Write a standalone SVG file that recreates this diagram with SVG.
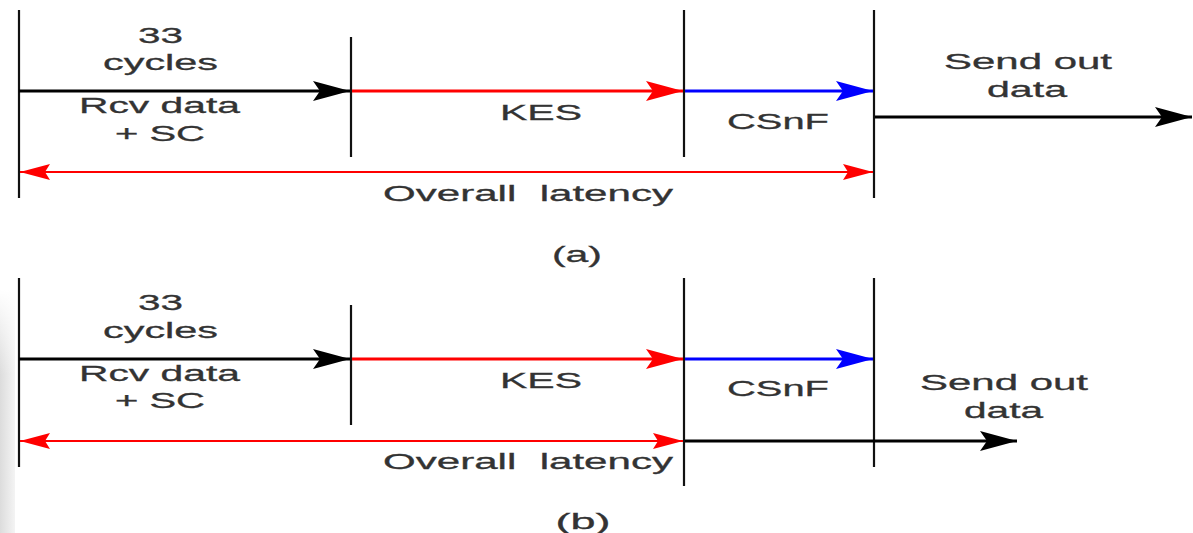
<svg xmlns="http://www.w3.org/2000/svg" width="1193" height="533" viewBox="0 0 1193 533">
<style>
.v{stroke:#111;stroke-width:2.2;fill:none}
.t{font-family:"Liberation Sans",Arial,sans-serif;font-size:22.5px;fill:#333;stroke:#333;stroke-width:0.3;text-anchor:middle}
.blk{stroke:#000;stroke-width:3;fill:none}
.red{stroke:#ff0000;stroke-width:3;fill:none}
.blu{stroke:#0000ff;stroke-width:3;fill:none}
.lat{stroke:#ff0000;stroke-width:2;fill:none}
</style>
<defs>
<marker id="hk" markerUnits="userSpaceOnUse" markerWidth="40" markerHeight="24" viewBox="0 -12 40 24" refX="37" refY="0" orient="auto"><path d="M0,-10 L37,0 L0,10 L7,0 z" fill="#000"/></marker>
<marker id="hr" markerUnits="userSpaceOnUse" markerWidth="40" markerHeight="24" viewBox="0 -12 40 24" refX="37" refY="0" orient="auto"><path d="M0,-10 L37,0 L0,10 L7,0 z" fill="#ff0000"/></marker>
<marker id="hb" markerUnits="userSpaceOnUse" markerWidth="40" markerHeight="24" viewBox="0 -12 40 24" refX="37" refY="0" orient="auto"><path d="M0,-10 L37,0 L0,10 L7,0 z" fill="#0000ff"/></marker>
<marker id="hl" markerUnits="userSpaceOnUse" markerWidth="32" markerHeight="20" viewBox="0 -10 32 20" refX="30" refY="0" orient="auto-start-reverse"><path d="M0,-8 L30,0 L0,8 L5,0 z" fill="#ff0000"/></marker>
<linearGradient id="sh" x1="0" y1="0" x2="1" y2="0"><stop offset="0" stop-color="#dcdcdc"/><stop offset="1" stop-color="#f4f4f4"/></linearGradient>
<linearGradient id="shv" x1="0" y1="0" x2="0" y2="1"><stop offset="0" stop-color="#fff" stop-opacity="1"/><stop offset="0.35" stop-color="#fff" stop-opacity="0"/></linearGradient>
</defs>
<rect width="1193" height="533" fill="#fff"/>
<rect x="0" y="290" width="15" height="243" fill="url(#sh)"/>
<rect x="0" y="290" width="15" height="243" fill="url(#shv)"/>

<g id="panel-a-ticks">
<line class="v" x1="19" y1="10" x2="19" y2="198"/>
<line class="v" x1="351" y1="37" x2="351" y2="157"/>
<line class="v" x1="684" y1="10" x2="684" y2="157"/>
<line class="v" x1="874" y1="10" x2="874" y2="198"/>
</g>
<g id="panel-b-ticks">
<line class="v" x1="19" y1="278" x2="19" y2="467"/>
<line class="v" x1="351" y1="305" x2="351" y2="425"/>
<line class="v" x1="684" y1="278" x2="684" y2="486"/>
<line class="v" x1="874" y1="278" x2="874" y2="467"/>
</g>

<g id="connectors">
<line class="blk" x1="19" y1="91" x2="350" y2="91" marker-end="url(#hk)"/>
<line class="red" x1="352" y1="91" x2="683" y2="91" marker-end="url(#hr)"/>
<line class="blu" x1="685" y1="91" x2="873" y2="91" marker-end="url(#hb)"/>
<line class="blk" x1="875" y1="117" x2="1192" y2="117" marker-end="url(#hk)"/>
<line class="lat" x1="20" y1="172" x2="873" y2="172" marker-start="url(#hl)" marker-end="url(#hl)"/>

<line class="blk" x1="19" y1="359" x2="350" y2="359" marker-end="url(#hk)"/>
<line class="red" x1="352" y1="359" x2="683" y2="359" marker-end="url(#hr)"/>
<line class="blu" x1="685" y1="359" x2="873" y2="359" marker-end="url(#hb)"/>
<line class="blk" x1="685" y1="441" x2="1017" y2="441" marker-end="url(#hk)"/>
<line class="lat" x1="20" y1="441" x2="683" y2="441" marker-start="url(#hl)" marker-end="url(#hl)"/>
</g>

<g id="labels-a">
<text class="t" x="160.5" y="43" textLength="45" lengthAdjust="spacingAndGlyphs">33</text>
<text class="t" x="160.5" y="70" textLength="115" lengthAdjust="spacingAndGlyphs">cycles</text>
<text class="t" x="159.5" y="113" textLength="161" lengthAdjust="spacingAndGlyphs">Rcv data</text>
<text class="t" x="160" y="141" textLength="90" lengthAdjust="spacingAndGlyphs">+ SC</text>
<text class="t" x="541" y="120" textLength="82" lengthAdjust="spacingAndGlyphs">KES</text>
<text class="t" x="778" y="129" textLength="102" lengthAdjust="spacingAndGlyphs">CSnF</text>
<text class="t" x="1028" y="69" textLength="168" lengthAdjust="spacingAndGlyphs">Send out</text>
<text class="t" x="1027" y="97" textLength="80" lengthAdjust="spacingAndGlyphs">data</text>
<text class="t" x="528" y="201" textLength="290" lengthAdjust="spacingAndGlyphs" xml:space="preserve">Overall  latency</text>
<text class="t" x="577" y="262" textLength="50" lengthAdjust="spacingAndGlyphs">(a)</text>
</g>
<g id="labels-b">
<text class="t" x="160.5" y="310" textLength="45" lengthAdjust="spacingAndGlyphs">33</text>
<text class="t" x="160.5" y="338" textLength="115" lengthAdjust="spacingAndGlyphs">cycles</text>
<text class="t" x="159.5" y="381" textLength="161" lengthAdjust="spacingAndGlyphs">Rcv data</text>
<text class="t" x="160" y="408" textLength="90" lengthAdjust="spacingAndGlyphs">+ SC</text>
<text class="t" x="541" y="388" textLength="82" lengthAdjust="spacingAndGlyphs">KES</text>
<text class="t" x="778" y="396" textLength="102" lengthAdjust="spacingAndGlyphs">CSnF</text>
<text class="t" x="1004" y="390" textLength="168" lengthAdjust="spacingAndGlyphs">Send out</text>
<text class="t" x="1003.5" y="418" textLength="79" lengthAdjust="spacingAndGlyphs">data</text>
<text class="t" x="528" y="469" textLength="290" lengthAdjust="spacingAndGlyphs" xml:space="preserve">Overall  latency</text>
<text class="t" x="583" y="529" textLength="55" lengthAdjust="spacingAndGlyphs">(b)</text>
</g>
</svg>
